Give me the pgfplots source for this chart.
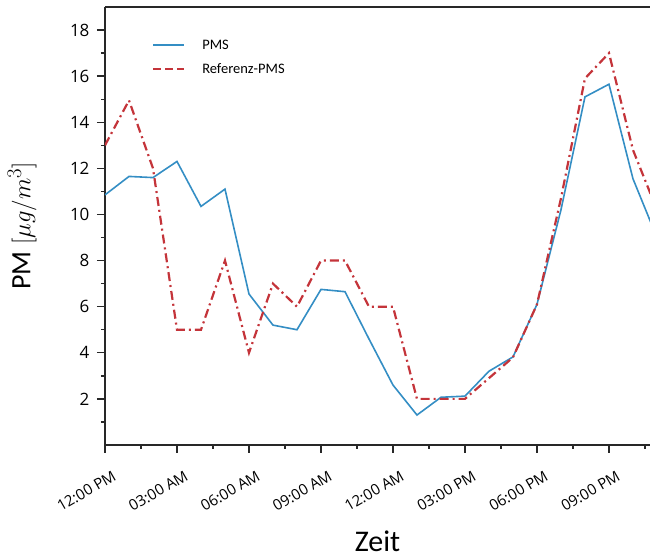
\documentclass[border=0pt]{standalone}
\usepackage{pgfplots}
\pgfplotsset{compat=1.18}
\usepackage{fontspec}
\setmainfont{Carlito}
\newfontfamily\tickfont{Open Sans}
\definecolor{pmsblue}{RGB}{52,142,196}
\definecolor{refred}{RGB}{196,52,58}
\definecolor{axcol}{RGB}{40,40,40}
\begin{document}
\begin{tikzpicture}
\begin{axis}[
  scale only axis, width=545pt, height=438pt,
  xmin=0, xmax=22.71, ymin=0, ymax=19,
  axis x line*=bottom, axis y line*=left,
  axis line style={line width=1.4pt, color=axcol},
  tick align=outside,
  major tick length=8pt, minor tick length=4pt,
  every tick/.style={line width=1.4pt, color=axcol},
  xtick={0,3,...,21}, minor xtick={1.5,4.5,...,22.5},
  xticklabels={12:00 PM,03:00 AM,06:00 AM,09:00 AM,12:00 AM,03:00 PM,06:00 PM,09:00 PM},
  ytick={2,4,...,18}, minor ytick={1,3,...,17},
  /pgf/number format/assume math mode=true,
  yticklabel style={font=\tickfont\fontsize{17}{19}\selectfont, color=black, xshift=-4pt},
  xticklabel style={font=\tickfont\fontsize{15}{17}\selectfont, xshift=8pt, yshift=-12pt, rotate=30, anchor=north east, color=black},
  xlabel={Zeit}, ylabel={PM $[\mu g/m^3]$},
  xlabel style={font=\fontsize{30}{34}\selectfont, inner sep=0pt, at={(axis description cs:0.5,0)}, anchor=base, yshift=-107pt},
  ylabel style={font=\fontsize{28}{32}\selectfont, at={(axis description cs:-0.152,0.5)}, anchor=center},
  legend style={draw=none, fill=none, at={(axis description cs:0.086,0.935)}, anchor=north west,
    font=\fontsize{14.5}{17}\selectfont, row sep=9pt, inner xsep=0pt,
    /tikz/every odd column/.append style={column sep=15pt}},
  legend image code/.code={\draw[#1] (0pt,0pt) -- (31pt,0pt);},
  legend cell align=left,
]
\coordinate (bl) at (rel axis cs:0,0);
\coordinate (tr) at (rel axis cs:1,1);
\addplot[pmsblue, line width=1.6pt] coordinates {
(0,10.85) (1,11.65) (2,11.6) (3,12.3) (4,10.35) (5,11.1) (6,6.55) (7,5.2)
(8,5.0) (9,6.75) (10,6.65) (11,4.6) (12,2.6) (13,1.3) (14,2.07) (15,2.12)
(16,3.2) (17,3.82) (18,6.1) (19,10.2) (20,15.1) (21,15.65) (22,11.55) (23,9.0)};
\addlegendentry{PMS}
\addplot[refred, line width=2.2pt, dash pattern=on 9pt off 4pt on 2pt off 4pt,
  legend image post style={dash pattern=on 8pt off 4pt}] coordinates {
(0,13.0) (1,14.95) (2,12.0) (3,5.0) (4,5.0) (5,8.0) (6,4.0) (7,7.0)
(8,6.0) (9,8.0) (10,8.0) (11,6.0) (12,6.0) (13,2.0) (14,2.0) (15,2.0)
(16,2.9) (17,3.8) (18,6.1) (19,10.7) (20,15.9) (21,17.0) (22,12.8) (23,10.2)};
\addlegendentry{Referenz-PMS}
\end{axis}
\draw[line width=1.4pt, color=axcol] (bl |- tr) -- (tr);
\pgfresetboundingbox
\path[use as bounding box] ([xshift=-105pt,yshift=-113pt]bl) rectangle ([yshift=7pt]tr);
\end{tikzpicture}
\end{document}
